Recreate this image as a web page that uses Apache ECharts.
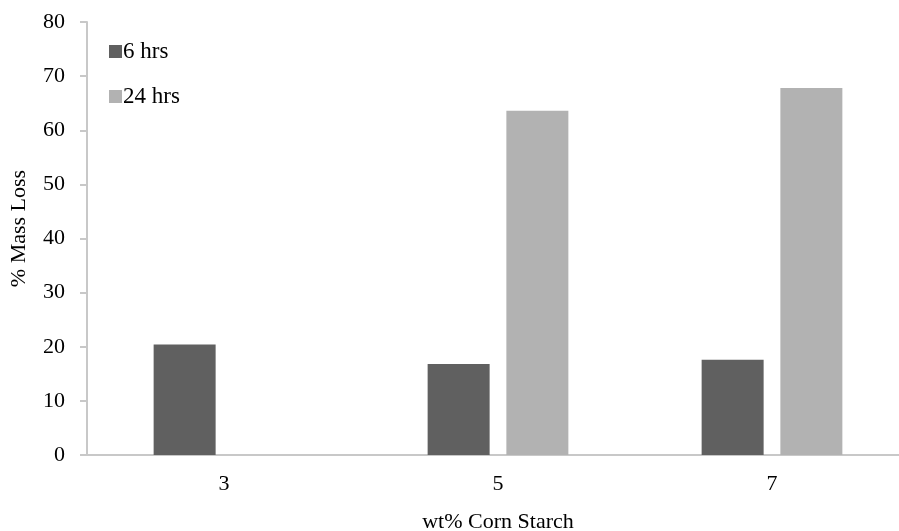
<!DOCTYPE html>
<html>
<head>
<meta charset="utf-8">
<script src="https://cdn.jsdelivr.net/npm/echarts@6/dist/echarts.min.js"></script>
<style>
  html, body { margin: 0; padding: 0; background: #fff; }
  #chart { width: 899px; height: 531px; }
</style>
</head>
<body>
<div id="chart"></div>
<script>
// wt% corn starch levels and % mass loss after each soak time
const categories = ['3', '5', '7'];
const seriesNames = ['6 hrs', '24 hrs'];
const loss6h = [20.4, 16.8, 17.6];
const loss24h = [null, 63.6, 67.8];

const FONT = "'Liberation Serif', 'Times New Roman', serif";
const AXIS_GREY = '#c8c8c8';

const chart = echarts.init(document.getElementById('chart'), null, { renderer: 'canvas' });

chart.setOption({
  animation: false,
  backgroundColor: '#ffffff',
  textStyle: { fontFamily: FONT, color: '#000' },
  grid: {
    left: 87, top: 22, width: 822, height: 433,
    containLabel: false,
    outerBoundsMode: 'none'
  },
  legend: {
    orient: 'vertical',
    left: 104,
    top: 35,
    itemWidth: 13,
    itemHeight: 13,
    itemGap: 22,
    icon: 'rect',
    textStyle: { fontFamily: FONT, fontSize: 23, color: '#000', padding: [0, 0, 0, -4] },
    data: seriesNames
  },
  xAxis: {
    type: 'category',
    data: categories,
    name: 'wt% Corn Starch',
    nameLocation: 'middle',
    nameGap: 56,
    nameTextStyle: { fontFamily: FONT, fontSize: 22, color: '#000' },
    axisLine: { lineStyle: { color: AXIS_GREY, width: 2 } },
    axisTick: { show: false },
    axisLabel: { fontFamily: FONT, fontSize: 22, color: '#000', margin: 18 }
  },
  yAxis: {
    type: 'value',
    min: 0,
    max: 80,
    interval: 10,
    name: '% Mass Loss',
    nameLocation: 'middle',
    nameGap: 57,
    nameTextStyle: { fontFamily: FONT, fontSize: 22, color: '#000', padding: [0, 0, 0, 20] },
    axisLine: { show: true, lineStyle: { color: AXIS_GREY, width: 2 } },
    axisTick: { show: true, length: 7, lineStyle: { color: AXIS_GREY, width: 2 } },
    axisLabel: { fontFamily: FONT, fontSize: 22, color: '#000', margin: 22 },
    splitLine: { show: false }
  },
  series: [
    {
      name: seriesNames[0],
      type: 'bar',
      data: loss6h,
      barWidth: 62,
      barGap: '27%',
      itemStyle: { color: '#606060' }
    },
    {
      name: seriesNames[1],
      type: 'bar',
      data: loss24h,
      barWidth: 62,
      barGap: '27%',
      itemStyle: { color: '#b2b2b2' }
    }
  ]
});
</script>
</body>
</html>
